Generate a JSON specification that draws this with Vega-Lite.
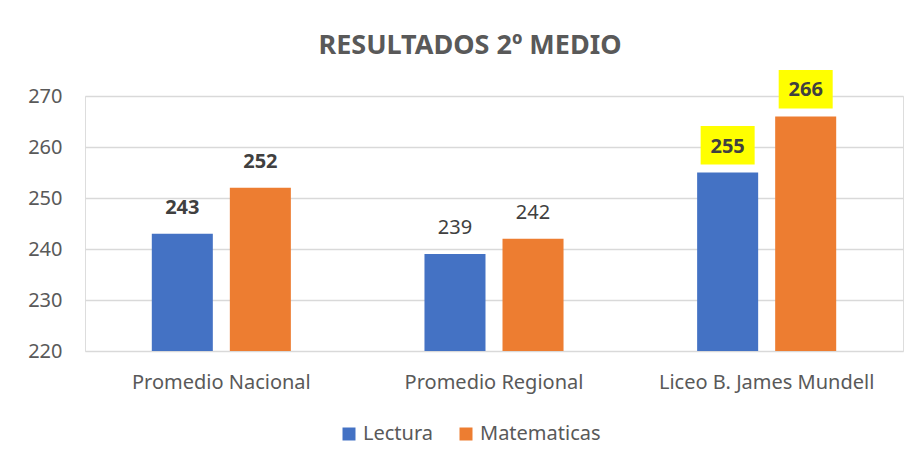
{
  "$schema": "https://vega.github.io/schema/vega-lite/v6.json",
  "width": 818,
  "height": 255,
  "autosize": {"type": "none"},
  "padding": {"left": 85, "top": 96, "right": 17, "bottom": 120},
  "background": "white",
  "title": {
    "text": "RESULTADOS 2º MEDIO",
    "font": "Noto Sans",
    "fontSize": 27,
    "fontWeight": "bold",
    "color": "#595959",
    "anchor": "middle",
    "frame": "group",
    "offset": 10,
    "dx": -24
  },
  "data": {
    "values": [
      {"grupo": "Promedio Nacional", "serie": "Lectura", "valor": 243},
      {"grupo": "Promedio Nacional", "serie": "Matematicas", "valor": 252},
      {"grupo": "Promedio Regional", "serie": "Lectura", "valor": 239},
      {"grupo": "Promedio Regional", "serie": "Matematicas", "valor": 242},
      {"grupo": "Liceo B. James Mundell", "serie": "Lectura", "valor": 255},
      {"grupo": "Liceo B. James Mundell", "serie": "Matematicas", "valor": 266}
    ]
  },
  "encoding": {
    "x": {
      "field": "grupo",
      "type": "nominal",
      "sort": null,
      "title": null,
      "scale": {"paddingInner": 0.49, "paddingOuter": 0.245},
      "axis": {
        "labelAngle": 0,
        "domain": false,
        "ticks": false,
        "labelPadding": 21,
        "labelLimit": 400,
        "labelFont": "Noto Sans",
        "labelFontSize": 20,
        "labelColor": "#595959"
      }
    },
    "xOffset": {
      "field": "serie",
      "type": "nominal",
      "scale": {"paddingInner": 0.218, "paddingOuter": 0}
    },
    "y": {
      "field": "valor",
      "type": "quantitative",
      "scale": {"domain": [220, 270], "zero": false, "nice": false},
      "title": null,
      "axis": {
        "values": [220, 230, 240, 250, 260, 270],
        "domain": false,
        "ticks": false,
        "labelPadding": 23,
        "labelFont": "Noto Sans",
        "labelFontSize": 20,
        "labelColor": "#595959",
        "gridColor": "#d9d9d9",
        "gridWidth": 1.3
      }
    }
  },
  "layer": [
    {
      "mark": {"type": "bar"},
      "encoding": {
        "y2": {"datum": 220},
        "color": {
          "field": "serie",
          "type": "nominal",
          "scale": {"domain": ["Lectura", "Matematicas"], "range": ["#4472C4", "#ED7D31"]},
          "legend": {
            "orient": "none",
            "legendX": 254,
            "legendY": 328,
            "direction": "horizontal",
            "title": null,
            "symbolType": "square",
            "symbolSize": 169,
            "symbolStrokeWidth": 0,
            "labelFont": "Noto Sans",
            "labelFontSize": 20,
            "labelColor": "#595959",
            "labelOffset": 4,
            "columnPadding": 22
          }
        }
      }
    },
    {
      "transform": [{"filter": "datum.grupo === 'Liceo B. James Mundell'"}],
      "mark": {
        "type": "point",
        "filled": true,
        "color": "#FFFF00",
        "opacity": 1,
        "size": 2500,
        "clip": false,
        "shape": "M-1.08,-1.86H1.08V-0.32H-1.08Z"
      }
    },
    {
      "transform": [{"filter": "datum.grupo !== 'Promedio Regional'"}],
      "mark": {
        "type": "text",
        "dy": -26,
        "baseline": "middle",
        "font": "Noto Sans",
        "fontSize": 20,
        "fontWeight": "bold",
        "color": "#404040"
      },
      "encoding": {"text": {"field": "valor", "type": "quantitative"}}
    },
    {
      "transform": [{"filter": "datum.grupo === 'Promedio Regional'"}],
      "mark": {
        "type": "text",
        "dy": -26,
        "baseline": "middle",
        "font": "Noto Sans",
        "fontSize": 20,
        "color": "#404040"
      },
      "encoding": {"text": {"field": "valor", "type": "quantitative"}}
    }
  ]
}
